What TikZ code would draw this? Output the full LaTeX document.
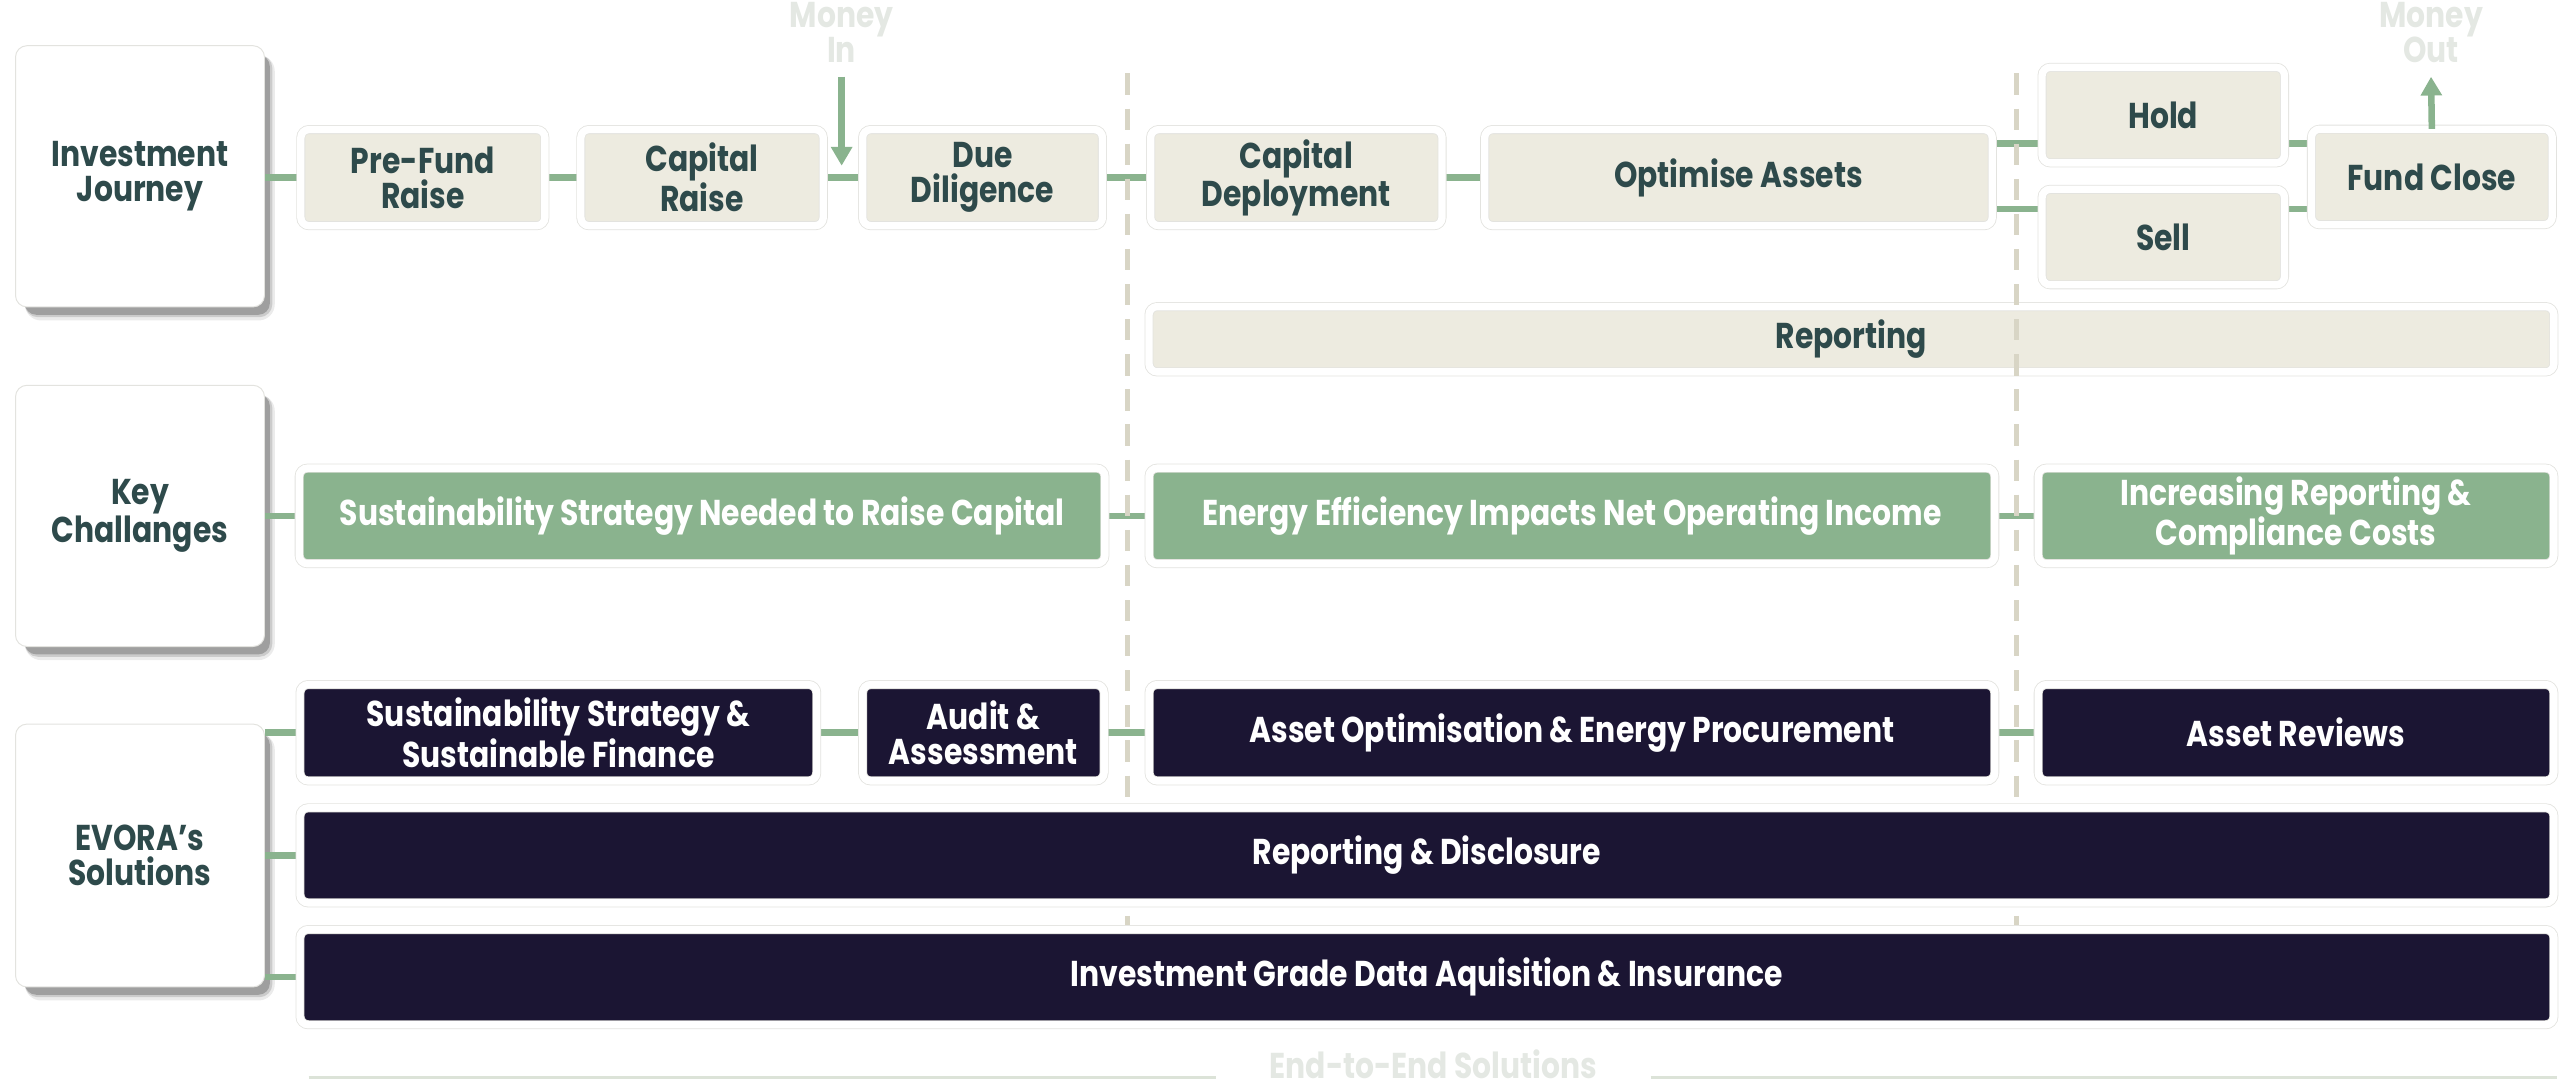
\documentclass[tikz,border=0pt]{standalone}
\usepackage{fontspec}
\setmainfont{Poppins}[FakeStretch=0.83]
\usetikzlibrary{calc,arrows.meta}
\definecolor{beige}{HTML}{EDEBE0}
\definecolor{sage}{HTML}{8AB38E}
\definecolor{navy}{HTML}{1B1533}
\definecolor{ink}{HTML}{2E4A4B}
\definecolor{framec}{HTML}{E3E3DF}
\definecolor{dashc}{HTML}{D8D5C5}
\definecolor{ghost}{HTML}{E4E8E3}
\definecolor{e2ec}{HTML}{DCE3D8}
\definecolor{shadowc}{HTML}{3A3A3A}
\pgfdeclarelayer{back}
\pgfdeclarelayer{mid}
\pgfsetlayers{back,mid,main}
\newcommand\cardshadow[1]{%
  \fill[shadowc, opacity=0.10, rounded corners=10pt] ($(#1.north west)+(6,6)$) rectangle ($(#1.south east)+(6,8)$);
  \fill[shadowc, opacity=0.18, rounded corners=8pt] ($(#1.north west)+(6,6)$) rectangle ($(#1.south east)+(4.5,6)$);
  \fill[shadowc, opacity=0.30, rounded corners=7pt] ($(#1.north west)+(6,6)$) rectangle ($(#1.south east)+(3,4.5)$);
}
\begin{document}
\begin{tikzpicture}[x=1pt,y=-1pt,
  txt/.style={font=\fontsize{22}{21.5}\selectfont\bfseries, align=center},
  card/.style={txt, rectangle, rounded corners=5pt, draw=framec, line width=0.5pt,
    double=white, double distance=4.5pt, inner sep=0pt},
  box/.style 2 args={minimum width=#1+4.5, minimum height=#2+4.5},
  light/.style={card, fill=beige, text=ink},
  greenc/.style={card, fill=sage, text=white},
  darkc/.style={card, fill=navy, text=white},
  labelbox/.style={txt, rectangle, rounded corners=7pt, fill=white, draw=framec, line width=0.6pt,
    minimum width=152.5, minimum height=160, text=ink},
  conn/.style={draw=sage, line width=4pt},
  arr/.style={conn, -{Triangle[width=12.5pt,length=11.5pt]}},
  divider/.style={draw=dashc, line width=3pt, dash pattern=on 13pt off 8.5pt},
  ghosttext/.style={txt, text=ghost, inner sep=0pt},
  e2eline/.style={draw=e2ec, line width=1.5pt},
]
\useasboundingbox (0,0) rectangle (1568,668.2);

% left labels
\node[labelbox] (ij) at (85.75,108) {Investment\\Journey};
\node[labelbox] (kc) at (85.75,316) {Key\\Challanges};
\node[labelbox, minimum height=161] (es) at (85.75,524) {EVORA’s\\Solutions};

% row 1: journey
\node[light, box={145}{54.4}] (pf) at (259,108.8) {Pre-Fund\\Raise};
\node[light, box={144}{54.4}] (cr) at (430,108.8) {Capital\\Raise};
\node[light, box={142.4}{54.4}] (dd) at (601.8,108.8) {Due\\Diligence};
\node[light, box={174}{54.4}] (cd) at (794,108.8) {Capital\\Deployment};
\node[light, box={306.4}{54.4}] (oa) at (1064.8,108.8) {Optimise Assets};
\node[light, box={144}{54}] (hold) at (1325,70.5) {Hold};
\node[light, box={144}{54}] (sell) at (1325,145.2) {Sell};
\node[light, box={143}{54}] (fc) at (1489.5,108.4) {Fund Close};
\begin{pgfonlayer}{back}
\node[light, box={856}{35.5}] (rep) at (1134,207.8) {Reporting};
\end{pgfonlayer}

% row 2: challenges
\node[greenc, box={489}{54}] (g1) at (430,316) {Sustainability Strategy Needed to Raise Capital};
\node[greenc, box={513.5}{54}] (g2) at (962.8,316) {Energy Efficiency Impacts Net Operating Income};
\node[greenc, box={311.3}{54}] (g3) at (1406.3,316) {Increasing Reporting \&\\Compliance Costs};

% row 3: solutions
\node[darkc, box={312}{54.5}] (ss) at (342,448.8) {Sustainability Strategy \&\\Sustainable Finance};
\node[darkc, box={143.4}{54.5}] (au) at (602.3,448.8) {Audit \&\\Assessment};
\node[darkc, box={513.5}{54.5}] (ao) at (962.8,448.8) {Asset Optimisation \& Energy Procurement};
\node[darkc, box={311.3}{54.5}] (ar) at (1406.3,448.8) {Asset Reviews};
\node[darkc, box={1376}{53.7}] (rd) at (874,523.9) {Reporting \& Disclosure};
\node[darkc, box={1376}{53.8}] (ig) at (874,598.5) {Investment Grade Data Aquisition \& Insurance};

% money in / out
\node[ghosttext] (min) at (515.5,20) {Money\\In};
\node[ghosttext] (mout) at (1489,20) {Money\\Out};
\coordinate (mia) at (515.5,47);
\coordinate (mib) at (515.5,101.5);
\coordinate (moa) at (1489,47);

% end-to-end
\node[ghosttext, text depth=0pt] (e2e) at (878,652) {End-to-End Solutions};
\coordinate (l1a) at (189,660);
\coordinate (l1b) at (745,660);
\coordinate (l2a) at (1011,660);
\coordinate (l2b) at (1566,660);

% helper coordinates
\coordinate (oaH) at ($(oa.east)+(0,-20.8)$);
\coordinate (oaS) at ($(oa.east)+(0,19.2)$);
\coordinate (fcH) at ($(fc.west)+(0,-20.4)$);
\coordinate (fcS) at ($(fc.west)+(0,19.6)$);
\coordinate (d1t) at (690.6,45);
\coordinate (d1b) at (690.6,612);
\coordinate (d2t) at (1235.3,45);
\coordinate (d2b) at (1235.3,612);

\begin{pgfonlayer}{back}
\cardshadow{ij}
\cardshadow{kc}
\cardshadow{es}
\end{pgfonlayer}

\begin{pgfonlayer}{mid}
\draw[conn] (ij.east |- pf.west) -- (pf.west);
\draw[conn] (pf) -- (cr);
\draw[conn] (cr) -- (dd);
\draw[conn] (dd) -- (cd);
\draw[conn] (cd) -- (oa);
\draw[conn] (oaH) -- (oaH -| hold.west);
\draw[conn] (oaS) -- (oaS -| sell.west);
\draw[conn] (hold.east |- fcH) -- (fcH);
\draw[conn] (sell.east |- fcS) -- (fcS);
\draw[conn] (kc.east |- g1.west) -- (g1.west);
\draw[conn] (g1) -- (g2);
\draw[conn] (g2) -- (g3);
\draw[conn] (es.east |- ss.west) -- (ss.west);
\draw[conn] (ss) -- (au);
\draw[conn] (au) -- (ao);
\draw[conn] (ao) -- (ar);
\draw[conn] (es.east |- rd.west) -- (rd.west);
\draw[conn] (es.east |- ig.west) -- (ig.west);
\draw[divider] (d1t) -- (d1b);
\draw[divider] (d2t) -- (d2b);
\end{pgfonlayer}

\draw[arr] (mia) -- (mib);
\draw[arr] (fc.north) -- (moa);
\draw[e2eline] (l1a) -- (l1b);
\draw[e2eline] (l2a) -- (l2b);
\end{tikzpicture}
\end{document}
